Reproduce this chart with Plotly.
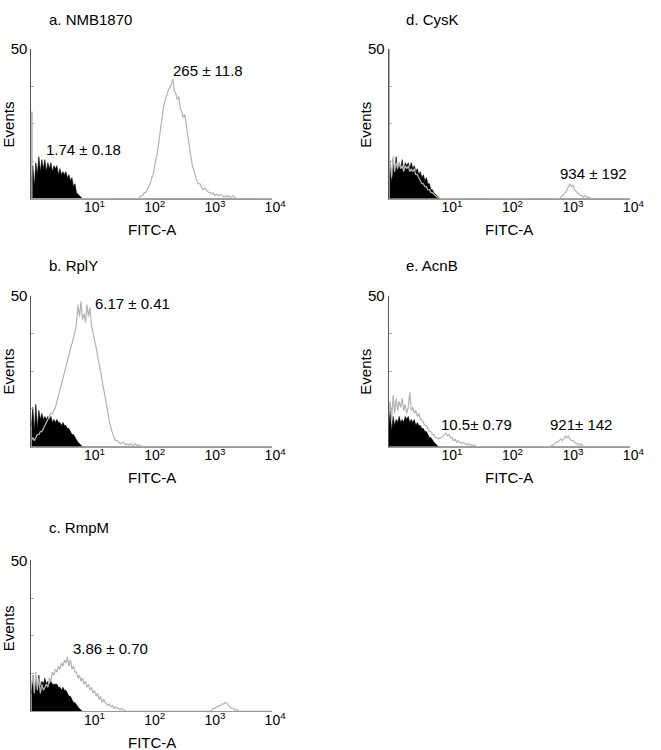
import numpy as np
import plotly.graph_objects as go

# ---------------- data (log10 FITC-A bins, step 0.025 from 10^0 to 10^4) ----------------
STEP = 0.025
N_BINS = 161

tick_vals = [10, 100, 1000, 10000]
tick_text = ["10<sup>1</sup>", "10<sup>2</sup>", "10<sup>3</sup>", "10<sup>4</sup>"]

titles = ["a. NMB1870", "b. RplY", "c. RmpM", "d. CysK", "e. AcnB"]

# control (black, filled) histograms: values from log 0.0 upward
ctrl_a = [6, 11, 4, 12, 8, 14, 9, 13, 10, 13, 9, 12, 10, 12, 9, 11, 10, 11, 8, 10,
          8, 9, 8, 9, 7, 8, 6, 7, 4, 5, 2, 1.5, 1, 0.5]
ctrl_b = [7, 13, 5, 14, 6, 12, 9, 11, 9, 10, 9, 10, 9, 10, 8, 9, 8, 9, 8, 8,
          7, 8, 7, 7, 6, 6, 5, 4, 4, 3, 2, 1.5, 1, 0.5]
ctrl_c = [6, 12, 5, 11, 7, 12, 8, 10, 9, 11, 9, 10, 9, 10, 9, 9, 9, 9, 8, 8,
          7, 8, 7, 7, 6, 5, 5, 4, 3, 3, 2, 1.5, 1, 0.5]
ctrl_d = [7, 12, 5, 13, 8, 14, 9, 12, 10, 13, 9, 12, 11, 12, 10, 12, 10, 11, 9, 10,
          8, 9, 7, 8, 6, 7, 5, 5, 3, 3, 2, 1.5, 1, 0.5]
ctrl_e = [6, 12, 5, 10, 7, 9, 8, 10, 8, 9, 8, 10, 9, 10, 8, 9, 8, 9, 7, 8,
          7, 7, 6, 6, 5, 5, 4, 3, 3, 2, 1.5, 1, 0.5, 0]

# stained (grey line) histograms, as (start log value, counts) segments
gray_a_start = 1.8
gray_a = [0.5, 1, 1, 2, 2, 3, 4, 5, 7, 8, 11, 13, 16, 20, 24, 28, 31, 33, 35, 36,
          37, 38, 40, 36, 35, 33, 34, 30, 29, 27, 28, 24, 20, 17, 14, 11, 9, 8, 6, 5,
          5, 4, 3, 3.5, 3, 2.5, 2, 2, 1.5, 2, 1, 1.5, 1, 1, 1.5, 1, 0.5, 1, 0.5, 1,
          0.5, 0.5, 1, 0.5, 0]

gray_b_start = 0.0
gray_b = [2, 3, 2, 3, 4, 4, 5, 5, 6, 7, 8, 9, 10, 11, 11, 12, 13, 15, 17, 19,
          21, 23, 25, 27, 29, 31, 32, 34, 36, 38, 41, 47, 43, 48, 42, 44, 41, 47, 43, 46,
          40, 38, 35, 33, 30, 28, 25, 22, 19, 16, 13, 10, 8, 6, 4, 3, 2, 2, 1.5, 1,
          1, 1.5, 1, 0.5, 1, 0.5, 1, 0.5, 0.5, 1, 0.5, 0.5, 0.5, 0]

gray_c_start = 0.0
gray_c = [8, 12, 6, 13, 7, 11, 6, 9, 7, 8, 9, 8, 11, 10, 13, 12, 14, 13, 15, 14,
          16, 15, 17, 16, 18, 15, 17, 14, 15, 13, 13, 11, 12, 10, 11, 9, 10, 8, 9, 7,
          8, 6, 7, 5, 6, 4, 5, 3, 4, 3, 2.5, 2, 2.5, 1.5, 2, 1, 1.5, 1, 1, 0.5,
          1, 0.5, 0.5, 0]
gray_c_high_start = 3.0
gray_c_high = [0.5, 1, 1, 1.5, 1.5, 2, 2, 2.5, 2.5, 3, 2.5, 2, 1.5, 1, 1, 0.5, 0.5, 0.5, 0]

gray_d_start = 0.0
gray_d = [9, 13, 7, 14, 9, 12, 10, 12, 10, 11, 9, 11, 10, 11, 9, 10, 9, 10, 8, 8,
          7, 6, 5, 5, 4, 4, 3, 3, 2, 2, 1.5, 1, 0.5, 0.5, 0]
gray_d_high_start = 2.85
gray_d_high = [0.5, 1, 1.5, 2, 3, 4, 5, 4, 4.5, 3, 2.5, 2, 1.5, 1, 1, 0.5, 1, 0.5, 0.5, 0.5, 0]

gray_e_start = 0.0
gray_e = [10, 15, 9, 17, 11, 16, 12, 15, 13, 16, 12, 14, 11, 13, 18, 12, 13, 11, 12, 10,
          11, 9, 9, 8, 7, 7, 6, 5, 5, 4, 4, 3, 3, 2.5, 3, 3, 3.5, 4, 4.5, 3.5,
          4, 3, 3, 2, 2.5, 1.5, 2, 1.5, 1, 1.5, 1, 1, 0.5, 1, 0.5, 0.5, 0.5, 0.5, 0]
gray_e_high_start = 2.7
gray_e_high = [0.5, 0.5, 1, 1.5, 1.5, 2, 2.5, 2, 3, 3.5, 3, 3.5, 2.5, 2, 2, 1.5, 1, 1, 0.5, 1, 0.5, 0]

# pile-up of grey events in the first channel
edge_spike = [29, 0, 0, 50, 0]

# mean fluorescence labels
labels_a = ["1.74 ± 0.18", "265 ± 11.8"]
labels_b = ["6.17 ± 0.41"]
labels_c = ["3.86 ± 0.70"]
labels_d = ["934 ± 192"]
labels_e = ["10.5± 0.79", "921± 142"]

# ---------------- layout helpers ----------------
W, H = 661, 750
FONT = "Liberation Sans, Arial, sans-serif"


def px_x(p):
    return p / W


def px_y(p):
    return 1 - p / H


def build(segments):
    arr = np.zeros(N_BINS)
    for start, vals in segments:
        i0 = int(round(start / STEP))
        arr[i0:i0 + len(vals)] = vals
    return arr


log_grid = np.arange(N_BINS) * STEP
x_vals = 10 ** log_grid

panels = [
    dict(col="L", row=1, ctrl=ctrl_a, gray=[(gray_a_start, gray_a)],
         labels=labels_a, lab_pos=[(85, 142), (212, 62)]),
    dict(col="L", row=2, ctrl=ctrl_b, gray=[(gray_b_start, gray_b)],
         labels=labels_b, lab_pos=[(135, 298)]),
    dict(col="L", row=3, ctrl=ctrl_c, gray=[(gray_c_start, gray_c), (gray_c_high_start, gray_c_high)],
         labels=labels_c, lab_pos=[(113, 647)]),
    dict(col="R", row=1, ctrl=ctrl_d, gray=[(gray_d_start, gray_d), (gray_d_high_start, gray_d_high)],
         labels=labels_d, lab_pos=[(606, 167)]),
    dict(col="R", row=2, ctrl=ctrl_e, gray=[(gray_e_start, gray_e), (gray_e_high_start, gray_e_high)],
         labels=labels_e, lab_pos=[(487, 421), (594, 421)]),
]

col_px = {"L": (32, 278), "R": (397, 644)}
row_px = {1: (40, 192), 2: (290, 443), 3: (558, 711)}
title_y = {1: 11, 2: 260, 3: 525}
events_y = {1: 117, 2: 367, 3: 627}

fig = go.Figure()
annotations = []
layout = dict(width=W, height=H, margin=dict(l=0, r=0, t=0, b=0),
              paper_bgcolor="white", plot_bgcolor="white", showlegend=False,
              font=dict(family=FONT, color="black"))

for k, p in enumerate(panels):
    idx = k + 1
    xn = "x" if idx == 1 else f"x{idx}"
    yn = "y" if idx == 1 else f"y{idx}"
    x0, x1 = col_px[p["col"]]
    yt, yb = row_px[p["row"]]

    black = build([(0.0, p["ctrl"])])
    gray = build(p["gray"])

    fig.add_trace(go.Scatter(x=x_vals, y=black, mode="lines", fill="tozeroy",
                             fillcolor="black", line=dict(color="black", width=0.6),
                             xaxis=xn, yaxis=yn, hoverinfo="skip"))
    fig.add_trace(go.Scatter(x=x_vals, y=gray, mode="lines",
                             line=dict(color="#b3b3b3", width=1.2),
                             xaxis=xn, yaxis=yn, hoverinfo="skip"))
    if edge_spike[k] > 0:
        fig.add_trace(go.Scatter(x=[x_vals[0], x_vals[0]], y=[0, edge_spike[k]], mode="lines",
                                 line=dict(color="#a0a0a0", width=2.5),
                                 xaxis=xn, yaxis=yn, hoverinfo="skip"))

    xa = "xaxis" if idx == 1 else f"xaxis{idx}"
    ya = "yaxis" if idx == 1 else f"yaxis{idx}"
    layout[xa] = dict(type="log", range=[0, 4], domain=[px_x(x0), px_x(x1)], anchor=yn,
                      showgrid=False, zeroline=False, showline=True, linecolor="#9a9a9a",
                      linewidth=1, tickvals=tick_vals, ticktext=tick_text, ticks="",
                      tickfont=dict(size=14, family=FONT, color="black"),
                      ticklabelshift=3, ticklabelstandoff=-4, fixedrange=True)
    layout[ya] = dict(range=[0, 50], domain=[px_y(yb), px_y(yt)], anchor=xn,
                      showgrid=False, zeroline=False, showline=True, linecolor="#555555",
                      linewidth=1, tickvals=[12.5, 25, 37.5, 50], ticktext=["", "", "", "50"],
                      ticks="inside", ticklen=3, tickcolor="#aaaaaa",
                      tickfont=dict(size=15, family=FONT, color="black"), fixedrange=True)

    # panel title
    annotations.append(dict(text=titles[k], x=px_x(x0 + 16), y=px_y(title_y[p["row"]]),
                            xref="paper", yref="paper", xanchor="left", yanchor="middle",
                            showarrow=False, font=dict(size=15, family=FONT)))
    # axis titles
    annotations.append(dict(text="Events", x=px_x(x0 - 23), y=px_y(events_y[p["row"]]),
                            xref="paper", yref="paper", xanchor="center", yanchor="middle",
                            textangle=-90, showarrow=False, font=dict(size=15, family=FONT)))
    annotations.append(dict(text="FITC-A", x=px_x((x0 + x1) / 2), y=px_y(yb + 31.5),
                            xref="paper", yref="paper", xanchor="center", yanchor="middle",
                            showarrow=False, font=dict(size=15, family=FONT)))
    for txt, (lx, ly) in zip(p["labels"], p["lab_pos"]):
        annotations.append(dict(text=txt, x=px_x(lx), y=px_y(ly), xref="paper", yref="paper",
                                xanchor="center", yanchor="middle", showarrow=False,
                                font=dict(size=15, family=FONT)))

layout["annotations"] = annotations
fig.update_layout(**layout)
fig.write_html("out.html", config={"displayModeBar": False},
               post_script="document.body.style.margin='0px';document.body.style.overflow='hidden';")
